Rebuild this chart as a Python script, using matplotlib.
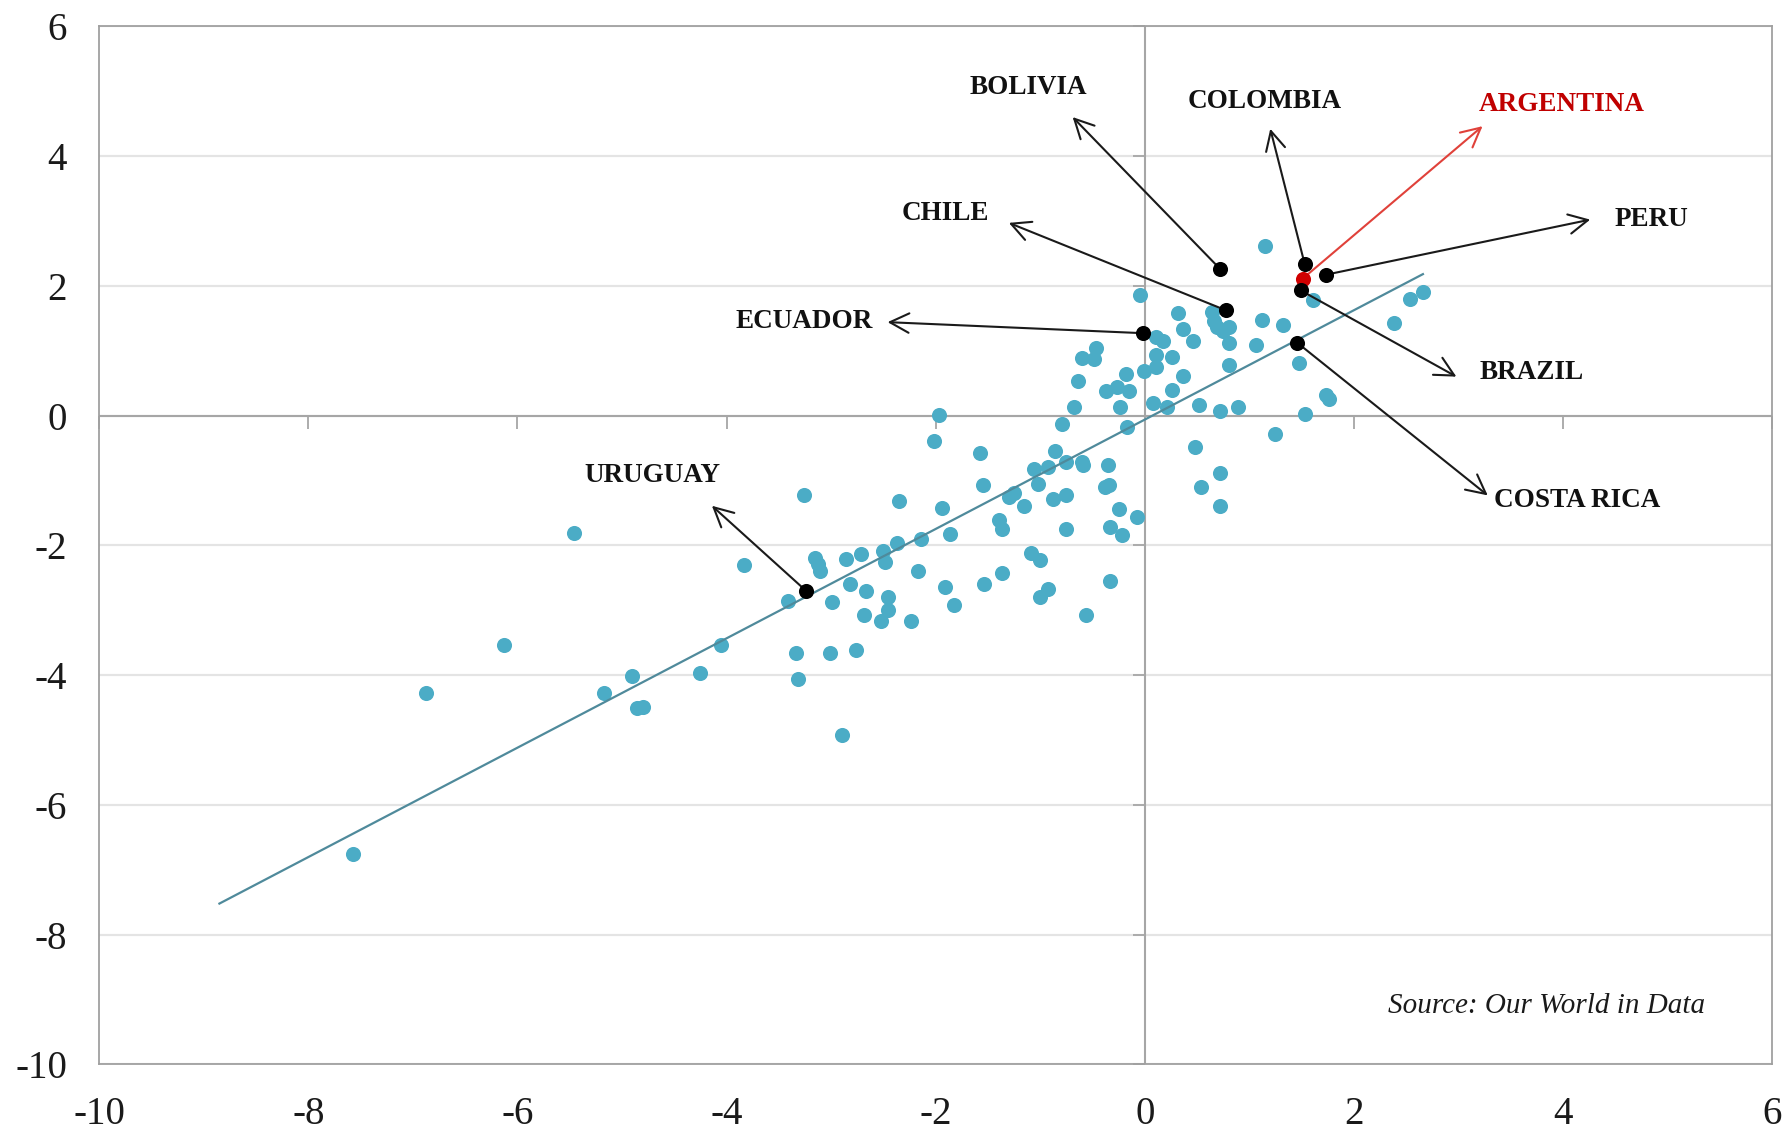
import matplotlib.pyplot as plt

# blue points (x, y)
pts_x = [-7.57, -6.87, -6.13, -5.46, -5.17, -4.90, -4.86, -4.80, -4.25, -4.05,
         -3.83, -3.41, -3.34, -3.32, -3.26, -3.15, -3.13, -3.11, -3.01, -2.99,
         -2.90, -2.86, -2.82, -2.76, -2.71, -2.69, -2.67, -2.52, -2.46, -2.46,
         -2.50, -2.48, -2.37, -2.35, -2.24, -2.17, -2.14, -2.02, -1.97, -1.94,
         -1.91, -1.86, -1.82, -1.58, -1.55, -1.54, -1.39, -1.37, -1.37, -1.30,
         -1.25, -1.16, -1.09, -1.06, -1.02, -1.00, -1.00, -0.93, -0.93, -0.88,
         -0.86, -0.79, -0.75, -0.75, -0.75, -0.68, -0.64, -0.60, -0.59, -0.60,
         -0.56, -0.49, -0.47, -0.37, -0.35, -0.38, -0.34, -0.33, -0.33, -0.27,
         -0.25, -0.24, -0.22, -0.18, -0.17, -0.15, -0.07, -0.05, -0.01, 0.08,
         0.11, 0.17, 0.11, 0.26, 0.11, 0.21, 0.26, 0.32, 0.37, 0.37,
         0.46, 0.48, 0.52, 0.54, 0.64, 0.66, 0.69, 0.75, 0.81, 0.72,
         0.72, 0.72, 0.81, 0.81, 0.89, 1.06, 1.12, 1.15, 1.25, 1.32,
         1.47, 1.53, 1.61, 1.73, 1.76, 2.38, 2.54, 2.66]
pts_y = [-6.76, -4.27, -3.54, -1.81, -4.27, -4.02, -4.51, -4.49, -3.96, -3.54,
         -2.30, -2.85, -3.66, -4.06, -1.22, -2.20, -2.29, -2.40, -3.66, -2.88,
         -4.92, -2.21, -2.59, -3.62, -2.14, -3.07, -2.70, -3.16, -2.79, -3.00,
         -2.08, -2.25, -1.96, -1.31, -3.16, -2.39, -1.90, -0.39, 0.01, -1.43,
         -2.64, -1.83, -2.92, -0.57, -1.07, -2.59, -1.61, -1.75, -2.42, -1.25,
         -1.20, -1.40, -2.11, -0.83, -1.06, -2.22, -2.79, -0.80, -2.68, -1.29,
         -0.54, -0.13, -0.71, -1.23, -1.75, 0.14, 0.54, -0.71, -0.76, 0.88,
         -3.07, 0.87, 1.04, 0.38, -0.76, -1.10, -1.07, -1.71, -2.55, 0.44,
         -1.44, 0.13, -1.84, 0.64, -0.18, 0.38, -1.56, 1.86, 0.69, 0.20,
         1.21, 1.15, 0.93, 0.91, 0.75, 0.13, 0.39, 1.58, 1.33, 0.61,
         1.15, -0.48, 0.16, -1.10, 1.60, 1.46, 1.36, 1.30, 1.37, 0.07,
         -0.88, -1.40, 1.12, 0.78, 0.13, 1.09, 1.48, 2.61, -0.28, 1.39,
         0.81, 0.02, 1.78, 0.32, 0.25, 1.43, 1.79, 1.90]

# highlighted countries
countries = ["BOLIVIA", "COLOMBIA", "ARGENTINA", "PERU", "CHILE",
             "ECUADOR", "BRAZIL", "COSTA RICA", "URUGUAY"]
country_x = [0.72, 1.53, 1.51, 1.73, 0.78, -0.02, 1.49, 1.46, -3.24]
country_y = [2.26, 2.33, 2.11, 2.17, 1.62, 1.27, 1.93, 1.12, -2.70]

# arrow tips and label centres
tip_x = [-0.69, 1.20, 3.23, 4.26, -1.30, -2.46, 2.98, 3.28, -4.14]
tip_y = [4.60, 4.42, 4.46, 3.02, 2.97, 1.44, 0.60, -1.23, -1.39]
lab_x = [-1.11, 1.15, 3.99, 4.85, -1.91, -3.26, 3.70, 4.14, -4.71]
lab_y = [5.06, 4.84, 4.79, 3.02, 3.12, 1.45, 0.66, -1.31, -0.92]

# fitted trend line end points
trend_x = [-8.85, 2.66]
trend_y = [-7.52, 2.18]

ticks = [-10, -8, -6, -4, -2, 0, 2, 4, 6]

plt.rcParams['axes.unicode_minus'] = False
plt.rcParams['font.family'] = ['Liberation Serif', 'DejaVu Serif']

fig = plt.figure(figsize=(17.87, 11.31), dpi=100)
ax = fig.add_axes([0.0555, 0.0588, 0.9362, 0.918])

ax.set_xlim(-10, 6)
ax.set_ylim(-10, 6)
ax.set_xticks(ticks)
ax.set_yticks(ticks)
ax.tick_params(length=0, labelsize=28, pad=23, colors='#1a1a1a')
ax.yaxis.grid(True, color='#e4e4e4', lw=1.6)
ax.set_axisbelow(True)
for s in ax.spines.values():
    s.set_color('#a0a0a0')
    s.set_linewidth(1.3)

# axes crossing at zero with tick marks
ax.axhline(0, color='#a6a6a6', lw=1.5, zorder=1)
ax.axvline(0, color='#a6a6a6', lw=1.5, zorder=1)
secx = ax.secondary_xaxis(0.625)
secx.set_alignment('bottom')
secx.set_xticks(ticks)
secx.set_xticklabels([])
secx.tick_params(direction='out', length=9, width=1.3, color='#a6a6a6')
secx.spines['bottom'].set_visible(False)
secx.set_zorder(1)
secy = ax.secondary_yaxis(0.625)
secy.set_alignment('left')
secy.set_yticks(ticks)
secy.set_yticklabels([])
secy.tick_params(direction='out', length=9, width=1.3, color='#a6a6a6')
secy.spines['left'].set_visible(False)
secy.set_zorder(1)

ax.scatter(pts_x, pts_y, s=118, color='#4bacc6', linewidths=0, zorder=2)
ax.plot(trend_x, trend_y, color='#4f8a9b', lw=1.6, zorder=3)

for i, name in enumerate(countries):
    red = name == "ARGENTINA"
    ax.annotate('', xy=(tip_x[i], tip_y[i]), xytext=(country_x[i], country_y[i]),
                arrowprops=dict(arrowstyle='->,head_length=0.55,head_width=0.28',
                                color='#e0413a' if red else '#1a1a1a', lw=1.5,
                                shrinkA=0, shrinkB=0, mutation_scale=25),
                zorder=4)
    ax.text(lab_x[i], lab_y[i], name, ha='center', va='center', fontsize=19.5,
            fontweight='bold', color='#c00000' if red else '#111111', zorder=5)

i = countries.index("ARGENTINA")
ax.scatter(country_x[i], country_y[i], s=118, color='#d00000',
           linewidths=0, zorder=5.5)
for i, name in enumerate(countries):
    if name != "ARGENTINA":
        ax.scatter(country_x[i], country_y[i], s=118, color='black',
                   linewidths=0, zorder=6)

ax.text(0.96, 0.056, "Source: Our World in Data", transform=ax.transAxes,
        ha='right', va='center', fontsize=21, style='italic', color='#1a1a1a')

fig.savefig("out.png", dpi=100)
